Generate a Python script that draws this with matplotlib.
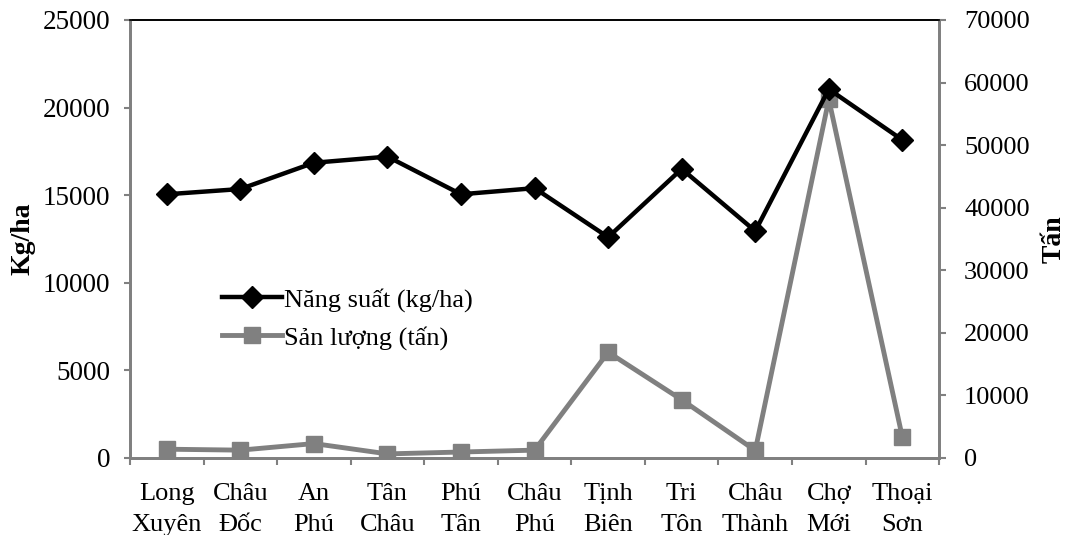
import numpy as np
import matplotlib.pyplot as plt

plt.rcParams['font.family'] = ['Liberation Serif', 'DejaVu Serif']

districts = ['Long\nXuyên', 'Châu\nĐốc', 'An\nPhú', 'Tân\nChâu', 'Phú\nTân', 'Châu\nPhú',
             'Tịnh\nBiên', 'Tri\nTôn', 'Châu\nThành', 'Chợ\nMới', 'Thoại\nSơn']
nang_suat = [15050, 15350, 16850, 17200, 15050, 15400, 12600, 16500, 12950, 21050, 18150]
san_luong = [1400, 1250, 2300, 650, 950, 1250, 16900, 9300, 1200, 57300, 3300]

gray = '#808080'
fig = plt.figure(figsize=[10.66, 5.35], dpi=100)
ax = fig.add_axes([0.122, 0.144, 0.759, 0.8187])
ax2 = ax.twinx()

x = np.arange(len(districts))
l1, = ax.plot(x, nang_suat, color='black', lw=3.2, marker='D', ms=11, label='Năng suất (kg/ha)', zorder=3)
l2, = ax2.plot(x, san_luong, color=gray, lw=3.5, marker='s', ms=12, label='Sản lượng (tấn)', zorder=2)
ax.set_zorder(ax2.get_zorder() + 1)
ax.patch.set_visible(False)

ax.set_xlim(-0.5, len(districts) - 0.5)
ax.set_ylim(0, 25000)
ax2.set_ylim(0, 70000)
ax.set_yticks(np.arange(0, 25001, 5000))
ax2.set_yticks(np.arange(0, 70001, 10000))

ax.set_xticks(x)
ax.set_xticklabels(districts, fontsize=19, linespacing=1.52)
ax.set_xticks(np.arange(-0.5, len(districts)), minor=True)
ax.tick_params(axis='x', which='major', length=0, pad=18)
ax.tick_params(axis='x', which='minor', length=5, color=gray, width=1.5, direction='out')
ax.tick_params(axis='y', length=4, color=gray, width=1.5, labelsize=19.5, pad=10)
ax2.tick_params(axis='y', length=5, color=gray, width=1.5, labelsize=19, pad=13)

for a in (ax, ax2):
    for s in ['left', 'right', 'bottom']:
        a.spines[s].set_color(gray)
        a.spines[s].set_linewidth(2)
    a.spines['top'].set_color('black')
    a.spines['top'].set_linewidth(1.2)

ax.set_ylabel('Kg/ha', fontsize=20, fontweight='bold')
ax.yaxis.set_label_coords(-0.117, 0.5)
ax2.set_ylabel('Tấn', fontsize=20, fontweight='bold')
ax2.yaxis.set_label_coords(1.127, 0.5)

ax.legend(handles=[l1, l2], loc='upper left', bbox_to_anchor=(0.10, 0.413), frameon=False,
          fontsize=19, handlelength=2.3, handletextpad=0.05, labelspacing=0.54, borderaxespad=0)

fig.savefig('out.png', dpi=100)
